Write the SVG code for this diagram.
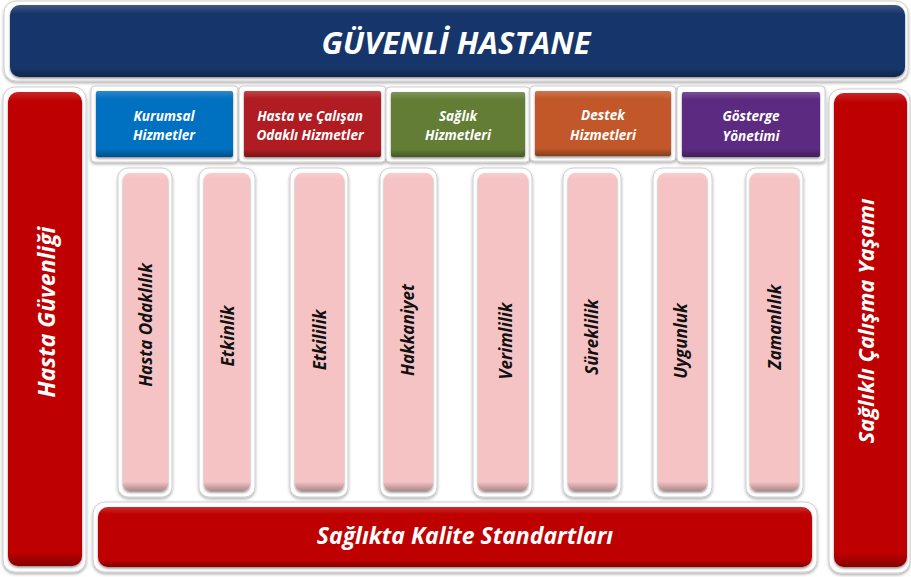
<svg xmlns="http://www.w3.org/2000/svg" width="911" height="577" viewBox="0 0 911 577">
<defs>
<filter id="ds" x="-10%" y="-10%" width="120%" height="120%">
<feDropShadow dx="0" dy="1.5" stdDeviation="1.8" flood-color="#000" flood-opacity="0.35"/>
</filter>
<filter id="ids" x="-10%" y="-10%" width="120%" height="120%">
<feDropShadow dx="0" dy="1.5" stdDeviation="1" flood-color="#000" flood-opacity="0.45"/>
</filter>
<linearGradient id="shade" x1="0" y1="0" x2="0" y2="1">
<stop offset="0" stop-color="#fff" stop-opacity="0.18"/>
<stop offset="0.12" stop-color="#fff" stop-opacity="0"/>
<stop offset="0.88" stop-color="#000" stop-opacity="0"/>
<stop offset="1" stop-color="#000" stop-opacity="0.3"/>
</linearGradient>
<linearGradient id="shadeV" x1="0" y1="0" x2="0" y2="1">
<stop offset="0" stop-color="#fff" stop-opacity="0.15"/>
<stop offset="0.02" stop-color="#fff" stop-opacity="0"/>
<stop offset="0.97" stop-color="#000" stop-opacity="0"/>
<stop offset="1" stop-color="#000" stop-opacity="0.3"/>
</linearGradient>
</defs>
<style>
.frame{fill:#fff;stroke:#cfcfcf;stroke-width:1;filter:url(#ds)}
.in{filter:url(#ids)}
.sh{fill:url(#shade)}
.shv{fill:url(#shadeV)}
.navy{fill:#17366a}
.red{fill:#bf0000}
.blue{fill:#0070c0}
.crim{fill:#b01a22}
.green{fill:#647d36}
.orange{fill:#c2592b}
.purple{fill:#5c2c80}
.pink{fill:#f6c3c5}
text{font-family:"Open Sans","DejaVu Sans",sans-serif;font-weight:bold;font-style:italic;text-anchor:middle}
.w{fill:#fff}
.k{fill:#111}
.title{font-size:31px}
.side{font-size:22px}
.box{font-size:13.5px}
.col{font-size:17px}
.bot{font-size:23px}
</style>
<rect width="911" height="577" fill="#fff"/>

<g id="banner">
<rect class="frame" x="4" y="1" width="904" height="80" rx="12"/>
<rect class="navy in" x="10" y="5" width="895" height="72" rx="10"/>
<rect class="sh" x="10" y="5" width="895" height="72" rx="10"/>
<text class="w title" x="456" y="54">GÜVENLİ HASTANE</text>
</g>

<g id="hasta-guvenligi">
<rect class="frame" x="3" y="87" width="83" height="485" rx="12"/>
<rect class="red in" x="8" y="92" width="74" height="474" rx="10"/>
<rect class="shv" x="8" y="92" width="74" height="474" rx="10"/>
<text class="w side" style="font-size:23px" transform="translate(55,312) rotate(-90)">Hasta Güvenliği</text>
</g>

<g id="saglikli-calisma">
<rect class="frame" x="829" y="89" width="81" height="484" rx="12"/>
<rect class="red in" x="834" y="93" width="73" height="474" rx="10"/>
<rect class="shv" x="834" y="93" width="73" height="474" rx="10"/>
<text class="w side" transform="translate(874,321) rotate(-90)">Sağlıklı Çalışma Yaşamı</text>
</g>

<g id="kurumsal">
<rect class="frame" x="91" y="86" width="147" height="76" rx="4"/>
<rect class="blue in" x="96" y="91" width="137" height="66" rx="2"/>
<rect class="sh" x="96" y="91" width="137" height="66" rx="2"/>
<text class="w box" x="164" y="121">Kurumsal</text>
<text class="w box" x="164" y="140">Hizmetler</text>
</g>

<g id="hasta-calisan">
<rect class="frame" x="239" y="86" width="147" height="76" rx="4"/>
<rect class="crim in" x="244" y="91" width="137" height="66" rx="2"/>
<rect class="sh" x="244" y="91" width="137" height="66" rx="2"/>
<text class="w box" x="310" y="121">Hasta ve Çalışan</text>
<text class="w box" x="310" y="140">Odaklı Hizmetler</text>
</g>

<g id="saglik">
<rect class="frame" x="386" y="87" width="144" height="75" rx="4"/>
<rect class="green in" x="391" y="92" width="134" height="65" rx="2"/>
<rect class="sh" x="391" y="92" width="134" height="65" rx="2"/>
<text class="w box" x="458" y="121">Sağlık</text>
<text class="w box" x="458" y="140">Hizmetleri</text>
</g>

<g id="destek">
<rect class="frame" x="530" y="86" width="146" height="75" rx="4"/>
<rect class="orange in" x="535" y="91" width="136" height="65" rx="2"/>
<rect class="sh" x="535" y="91" width="136" height="65" rx="2"/>
<text class="w box" x="603" y="120">Destek</text>
<text class="w box" x="603" y="140">Hizmetleri</text>
</g>

<g id="gosterge">
<rect class="frame" x="677" y="86" width="148" height="76" rx="4"/>
<rect class="purple in" x="682" y="92" width="138" height="65" rx="2"/>
<rect class="sh" x="682" y="92" width="138" height="65" rx="2"/>
<text class="w box" x="751" y="121">Gösterge</text>
<text class="w box" x="751" y="141">Yönetimi</text>
</g>

<g id="hasta-odaklilik">
<rect class="frame" x="118" y="168" width="54" height="329" rx="10"/>
<rect class="pink in" x="123" y="173" width="45" height="318" rx="7"/>
<rect class="shv" x="123" y="173" width="45" height="318" rx="7"/>
<text class="k col" transform="translate(152,325) rotate(-90)">Hasta Odaklılık</text>
</g>

<g id="etkinlik">
<rect class="frame" x="199" y="168" width="56" height="329" rx="10"/>
<rect class="pink in" x="204" y="173" width="46" height="318" rx="7"/>
<rect class="shv" x="204" y="173" width="46" height="318" rx="7"/>
<text class="k col" transform="translate(234,336) rotate(-90)">Etkinlik</text>
</g>

<g id="etkililik">
<rect class="frame" x="290" y="168" width="58" height="329" rx="10"/>
<rect class="pink in" x="295" y="173" width="49" height="318" rx="7"/>
<rect class="shv" x="295" y="173" width="49" height="318" rx="7"/>
<text class="k col" transform="translate(326,340) rotate(-90)">Etkililik</text>
</g>

<g id="hakkaniyet">
<rect class="frame" x="380" y="168" width="57" height="329" rx="10"/>
<rect class="pink in" x="384" y="173" width="49" height="318" rx="7"/>
<rect class="shv" x="384" y="173" width="49" height="318" rx="7"/>
<text class="k col" transform="translate(414,330) rotate(-90)">Hakkaniyet</text>
</g>

<g id="verimlilik">
<rect class="frame" x="473" y="168" width="59" height="329" rx="10"/>
<rect class="pink in" x="478" y="173" width="50" height="318" rx="7"/>
<rect class="shv" x="478" y="173" width="50" height="318" rx="7"/>
<text class="k col" transform="translate(512,341) rotate(-90)">Verimlilik</text>
</g>

<g id="sureklilik">
<rect class="frame" x="563" y="168" width="58" height="329" rx="10"/>
<rect class="pink in" x="568" y="173" width="49" height="318" rx="7"/>
<rect class="shv" x="568" y="173" width="49" height="318" rx="7"/>
<text class="k col" transform="translate(598,337) rotate(-90)">Süreklilik</text>
</g>

<g id="uygunluk">
<rect class="frame" x="653" y="168" width="59" height="329" rx="10"/>
<rect class="pink in" x="658" y="173" width="49" height="318" rx="7"/>
<rect class="shv" x="658" y="173" width="49" height="318" rx="7"/>
<text class="k col" transform="translate(687,341) rotate(-90)">Uygunluk</text>
</g>

<g id="zamanlilik">
<rect class="frame" x="746" y="168" width="57" height="329" rx="10"/>
<rect class="pink in" x="750" y="173" width="49" height="318" rx="7"/>
<rect class="shv" x="750" y="173" width="49" height="318" rx="7"/>
<text class="k col" transform="translate(781,327) rotate(-90)">Zamanlılık</text>
</g>

<g id="kalite-standartlari">
<rect class="frame" x="93" y="502" width="724" height="70" rx="12"/>
<rect class="red in" x="98" y="507" width="714" height="60" rx="10"/>
<rect class="sh" x="98" y="507" width="714" height="60" rx="10"/>
<text class="w bot" x="465" y="544">Sağlıkta Kalite Standartları</text>
</g>

<g id="connectors"/>
</svg>
